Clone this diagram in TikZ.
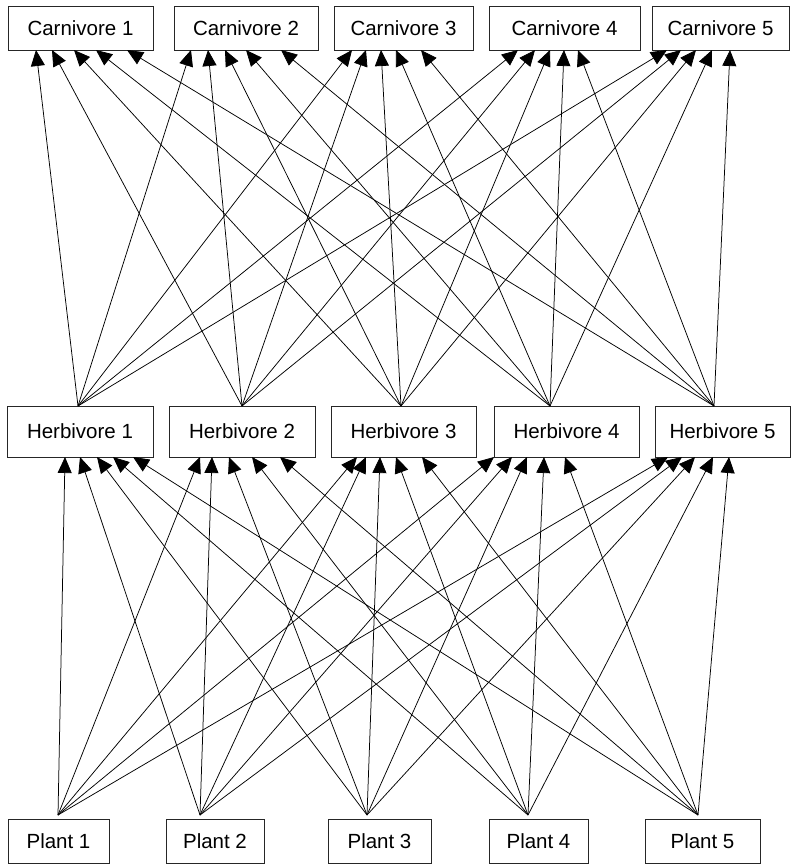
\documentclass[tikz,border=0pt]{standalone}
\usepackage{fontspec}
\setmainfont{Liberation Sans}
\usetikzlibrary{arrows.meta}
\tikzset{
  box/.style={draw=black!85, line width=0.9pt, fill=white, inner sep=0pt,
    font=\fontsize{20.5}{24}\selectfont},
  arr/.style={line width=0.75pt, -{Triangle[length=16pt,width=14pt]}},
}
\begin{document}
\begin{tikzpicture}[x=1pt,y=-1pt]
\useasboundingbox (0,0) rectangle (793,864);
% carnivores (y 6-50)
\node[box, minimum width=145pt, minimum height=44pt] (c1) at (80.5,28) {Carnivore 1};
\node[box, minimum width=144pt, minimum height=44pt] (c2) at (246,28) {Carnivore 2};
\node[box, minimum width=139pt, minimum height=44pt] (c3) at (403.5,28) {Carnivore 3};
\node[box, minimum width=151pt, minimum height=44pt] (c4) at (564.5,28) {Carnivore 4};
\node[box, minimum width=137pt, minimum height=44pt] (c5) at (720.5,28) {Carnivore 5};
% herbivores (y 406-457)
\node[box, minimum width=146pt, minimum height=51pt] (h1) at (80,431.5) {Herbivore 1};
\node[box, minimum width=146pt, minimum height=51pt] (h2) at (242,431.5) {Herbivore 2};
\node[box, minimum width=145pt, minimum height=51pt] (h3) at (403.5,431.5) {Herbivore 3};
\node[box, minimum width=145pt, minimum height=51pt] (h4) at (566.5,431.5) {Herbivore 4};
\node[box, minimum width=135pt, minimum height=51pt] (h5) at (722.5,431.5) {Herbivore 5};
% plants (y 819-863)
\node[box, minimum width=101pt, minimum height=44pt] (p1) at (58.5,841) {Plant 1};
\node[box, minimum width=98pt, minimum height=44pt] (p2) at (215,841) {Plant 2};
\node[box, minimum width=103pt, minimum height=44pt] (p3) at (379.5,841) {Plant 3};
\node[box, minimum width=99pt, minimum height=44pt] (p4) at (538.5,841) {Plant 4};
\node[box, minimum width=115pt, minimum height=44pt] (p5) at (702.5,841) {Plant 5};
% source points
\coordinate (h1o) at (78,406);
\coordinate (h2o) at (242,406);
\coordinate (h3o) at (401,406);
\coordinate (h4o) at (550,406);
\coordinate (h5o) at (714,406);
\coordinate (p1o) at (58,815);
\coordinate (p2o) at (200,815);
\coordinate (p3o) at (367,815);
\coordinate (p4o) at (528,815);
\coordinate (p5o) at (698,815);
% herbivore -> carnivore
\foreach \t [count=\j] in {{36,52,74,96,127},{191,208,225,246,281},{352,366,381,396,421},{518,535,550,564,578},{667,681,696,712,730}} {
  \foreach \x [count=\i] in \t {
    \coordinate (c\j t\i) at (\x,50);
    \draw[arr] (h\i o) -- (c\j t\i);
  }
}
% plant -> herbivore
\foreach \t [count=\j] in {{65,80,97,113,133},{200,212,229,252,280},{357,366,380,396,422},{494,512,527,544,565},{668,682,695,713,729}} {
  \foreach \x [count=\i] in \t {
    \coordinate (h\j t\i) at (\x,457);
    \draw[arr] (p\i o) -- (h\j t\i);
  }
}
\end{tikzpicture}
\end{document}
